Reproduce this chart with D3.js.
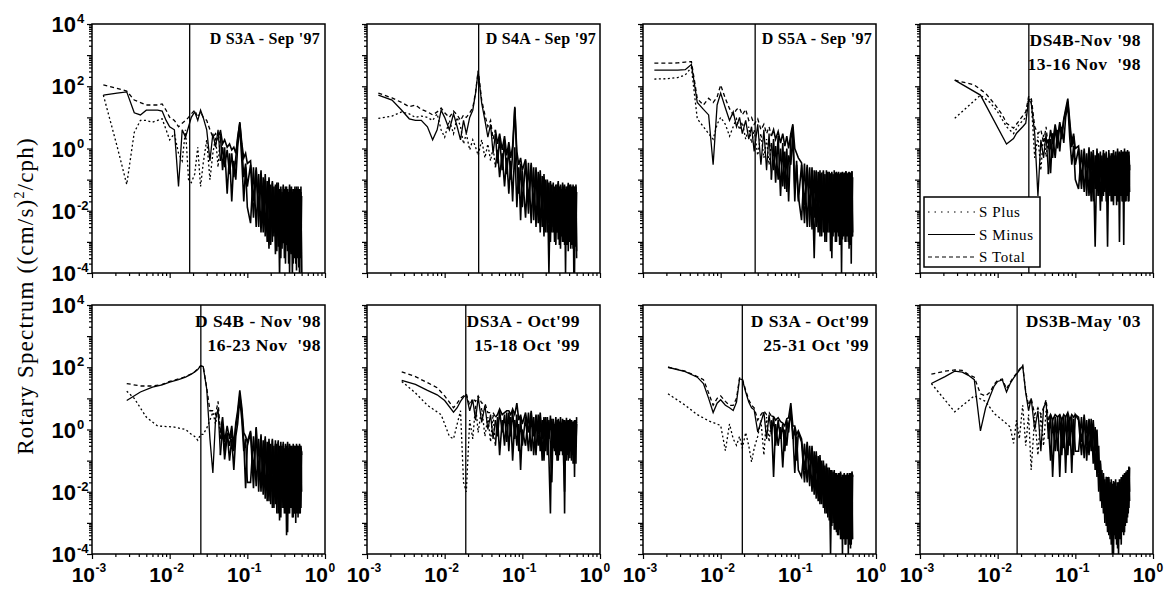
<!DOCTYPE html>
<html>
<head>
<meta charset="utf-8">
<script src="https://cdnjs.cloudflare.com/ajax/libs/d3/7.8.5/d3.min.js"></script>
<style>
  body { margin: 0; background: #fff; }
  .frame { fill: none; stroke: #000; stroke-width: 1.5px; }
  .axis path { display: none; }
  .axis line { stroke: #000; stroke-width: 1.2px; }
  .tick-label { font-family: "Liberation Sans", Arial, sans-serif; font-weight: bold; fill: #000; }
  .title { font-family: "Liberation Serif", "Times New Roman", serif; font-weight: bold; fill: #000; }
  .series { fill: none; stroke: #000; stroke-width: 1.3px; }
  .series.tail { stroke-width: 1.6px; }
  .legend text { font-family: "Liberation Serif", "Times New Roman", serif; font-size: 15px; letter-spacing: 0.6px; }
</style>
</head>
<body>
<div id="chart"></div>
<script>
// frequency grid (cph) shared by all panels
const freq = [
  0.0014,0.0021,0.0028,0.0035,0.0042,0.005,0.006,0.007,0.008,0.009,
  0.010,0.0115,0.013,0.0145,0.016,0.0175,0.019,0.021,0.023,0.025,
  0.027,0.030,0.033,0.036,0.039,0.042,0.045,0.048,0.051,0.055,
  0.059,0.063,0.067,0.071,0.075,0.080,0.085,0.090,0.095,0.100,
  0.11,0.12,0.13,0.14,0.15,0.16,0.17,0.18,0.19,0.20,
  0.21,0.22,0.23,0.24,0.25,0.26,0.27,0.28,0.29,0.30,
  0.31,0.32,0.33,0.34,0.35,0.36,0.37,0.38,0.39,0.40,
  0.41,0.42,0.43,0.44,0.45,0.46,0.47,0.48,0.49,0.50];

const panelTitles = [
  ["D S3A - Sep '97"], ["D S4A - Sep '97"], ["D S5A - Sep '97"],
  ["DS4B-Nov '98", "13-16 Nov  '98"],
  ["D S4B - Nov '98", "16-23 Nov  '98"],
  ["DS3A - Oct'99", "15-18 Oct '99"],
  ["D S3A - Oct'99", "25-31 Oct '99"],
  ["DS3B-May '03"]];

// inertial frequency (cph), vertical line in each panel
const inertialFreq = [0.0181, 0.0274, 0.0278, 0.0252, 0.0252, 0.0187, 0.019, 0.0178];

const seriesNames = ["S Plus", "S Minus", "S Total"];

// DS3A Sep 97
const sMinus1 = [
  52,60,66,14,12,17,17,17,16,8,
  5,4,0.06,4,2.3,5,10,15,8,17,
  10,4,0.4,3,1.1,4,0.4,1.1,0.25,0.9,
  0.15,0.7,0.12,0.5,2.3,6.5,1.1,0.12,0.33,0.06,
  0.3,6e-3,0.2,3e-3,0.15,2e-3,0.1,1e-3,0.12,8e-4,
  0.08,1.5e-3,0.06,5e-4,0.07,8e-5,0.05,6e-4,0.06,3e-4,
  0.05,8e-4,0.04,2e-4,0.06,5e-4,0.05,7e-5,0.04,3e-4,
  0.05,2e-4,0.06,6e-4,0.04,1.5e-4,0.05,3e-4,0.04,6e-5];
const sPlus1 = [
  52,1.2,0.07,3.3,8,8,7,8,9,4,
  1.9,3,0.7,0.4,4,0.1,0.08,0.15,1.1,0.06,
  0.33,1.9,0.1,0.7,2.3,0.25,3,0.2,1.1,0.035,
  0.7,0.02,0.4,0.1,1.1,5,0.4,0.02,0.25,0.013,
  4e-3,0.25,3e-3,0.15,2e-3,0.12,1.5e-3,0.09,6e-4,0.07,
  1e-3,0.06,4e-4,0.08,7e-4,0.05,3e-4,0.04,9e-4,0.05,
  2e-4,0.06,5e-4,0.04,1e-4,0.05,4e-4,0.03,2e-4,0.05,
  6e-4,0.04,1.2e-4,0.05,3e-4,0.04,8e-5,0.05,4e-4,0.03];
const sTotal1 = [
  110,85,70,36,30,25,25,25,27,17,
  10,8,5,6.5,8,10,13,17,10,15,
  10,8,4,2.3,3,1.9,4,1.4,1.9,1.1,
  1.4,0.9,1.1,0.7,1.9,7,1.4,0.5,0.7,0.33,
  0.4,0.02,0.25,0.01,0.2,6e-3,0.15,4e-3,0.1,3e-3,
  0.09,2e-3,0.07,3e-3,0.08,1.5e-3,0.06,1e-3,0.07,2e-3,
  0.06,1e-3,0.05,1.5e-3,0.07,8e-4,0.06,1.2e-3,0.05,6e-4,
  0.06,1e-3,0.05,5e-4,0.06,1e-3,0.05,4e-4,0.06,1e-4];

// DS4A Sep 97
const sMinus2 = [
  52,36,17,9,8,8,5,1.9,4,17,
  10,4,13,5,1.9,8,3,10,17,60,
  300,28,8,2.3,6,0.7,3,0.33,2.3,0.2,
  1.9,0.15,1.1,0.1,0.7,20,0.4,0.035,0.33,0.013,
  0.4,8e-3,0.3,5e-3,0.2,4e-3,0.15,3e-3,0.12,2e-3,
  0.09,1e-4,0.08,2e-3,0.07,1e-3,0.06,2e-3,0.08,8e-4,
  0.06,1.5e-3,0.07,1e-3,0.06,1e-4,0.05,8e-4,0.07,1.2e-3,
  0.06,6e-4,0.05,1e-3,0.06,1e-4,0.05,7e-4,0.06,3e-4];
const sPlus2 = [
  9.3,11,15,13,10,11,10,8,13,4,
  2.3,8,3,10,5,1.4,3,0.9,1.9,1.1,
  0.6,1.9,0.5,1.4,0.4,1.1,0.25,0.9,0.12,0.7,
  0.06,0.5,0.035,0.4,0.02,1.1,0.013,0.25,0.005,0.2,
  6e-3,0.35,4e-3,0.25,3e-3,0.18,2e-3,0.13,1.5e-3,0.1,
  2e-3,0.08,1e-3,0.07,2e-3,0.06,8e-4,0.07,1.2e-3,0.06,
  6e-4,0.05,1e-3,0.06,8e-4,0.05,1.5e-3,0.06,5e-4,0.05,
  1e-3,0.07,8e-4,0.05,6e-4,0.06,1e-4,0.05,1e-3,0.04];
const sTotal2 = [
  60,42,30,22,25,18,15,12,15,20,
  14,10,16,12,8,12,10,14,20,65,
  320,35,12,5,8,2,4,1.4,3,0.9,
  2.5,0.6,1.6,0.5,1.2,22,0.8,0.3,0.5,0.2,
  0.45,0.02,0.35,0.012,0.25,8e-3,0.2,6e-3,0.15,5e-3,
  0.1,4e-3,0.09,3e-3,0.08,4e-3,0.07,2e-3,0.09,3e-3,
  0.07,2e-3,0.08,2.5e-3,0.07,1.5e-3,0.06,2e-3,0.08,1.2e-3,
  0.07,2e-3,0.06,1.5e-3,0.07,1e-3,0.06,1.5e-3,0.07,5e-4];

// DS5A Sep 97
const sMinus3 = [
  330,330,330,340,500,30,18,12,0.3,25,
  60,20,8,15,5,10,3,8,2,5,
  0.8,6,0.3,4,0.2,3,0.1,2,0.08,2.5,
  0.03,1.5,0.05,1,0.02,2,5,0.05,0.3,0.02,
  0.3,4e-3,0.25,3e-3,0.2,3e-4,0.18,2e-3,0.15,1.5e-3,
  0.2,1e-3,0.15,2e-3,0.18,5e-4,0.16,1.5e-3,0.15,1e-3,
  0.18,2e-3,0.15,8e-4,0.17,1e-4,0.15,1.5e-3,0.16,1e-3,
  0.18,2e-3,0.15,1e-3,0.17,8e-4,0.15,2e-4,0.18,1.5e-3];
const sPlus3 = [
  170,175,190,230,400,9,5,3,2,6,
  10,6,2.5,5,9,4,7,2,5,1.5,
  4,0.6,3,0.5,2,0.3,1.5,0.2,1.2,0.1,
  1,0.06,0.8,0.04,0.6,0.3,3,0.02,0.4,0.03,
  5e-3,0.33,3e-3,0.25,2.5e-3,0.2,3e-3,0.18,1.5e-3,0.17,
  2e-3,0.15,1e-3,0.18,2e-3,0.16,3e-4,0.15,2e-3,0.17,
  1e-3,0.16,1.5e-3,0.15,8e-4,0.17,1.2e-3,0.15,2e-3,0.16,
  1e-3,0.15,1.5e-3,0.17,6e-4,0.15,1e-3,0.16,1.5e-3,0.12];
const sTotal3 = [
  550,550,560,600,620,40,25,41,30,45,
  110,40,19,12,18,20,12,18,8,10,
  6,9,4,6,3,5,2.5,4,2,3.5,
  1.5,3,1.2,2.5,1,3,6,1,0.7,0.5,
  0.35,0.015,0.3,0.01,0.25,6e-3,0.2,8e-3,0.2,5e-3,
  0.18,6e-3,0.2,4e-3,0.17,5e-3,0.18,3e-3,0.2,4e-3,
  0.17,5e-3,0.18,3e-3,0.16,4e-3,0.18,3e-3,0.17,5e-3,
  0.19,3e-3,0.16,4e-3,0.18,3e-3,0.17,4e-3,0.19,2e-3];

// DS4B Nov 98, 13-16 Nov
const sMinus4 = [
  null,null,158,null,null,null,52,null,null,null,
  null,null,1.4,null,2.1,3.1,null,5,6.5,36,
  30,3,0.03,1.9,0.5,3,0.15,2,0.5,5,
  1,6,2,8,15,32,5,1.1,2.5,0.3,
  1,0.05,0.8,0.03,0.9,0.02,0.7,7e-4,0.8,0.03,
  0.6,0.02,0.7,0.04,0.6,7e-4,0.7,0.03,0.5,0.02,
  0.7,0.03,0.6,0.015,0.8,0.02,0.6,0.03,0.7,0.02,
  0.6,8e-4,0.7,0.02,0.6,0.03,0.7,0.02,0.6,0.04];
const sPlus4 = [
  null,null,9.3,null,null,null,52,null,30,null,
  15,null,5,null,3,null,6,null,10,40,
  35,0.5,2.4,0.2,3,0.54,2,0.16,3.1,0.5,
  4,0.8,5,1.5,10,25,2,0.3,1.2,0.1,
  0.05,0.9,0.04,0.7,0.03,0.8,0.02,0.6,0.03,0.7,
  0.01,0.6,0.03,0.7,0.02,0.5,0.03,0.6,0.02,0.7,
  0.015,0.6,0.03,0.5,0.02,0.7,1e-3,0.6,0.03,0.5,
  0.02,0.6,0.03,0.7,0.02,0.6,0.03,0.5,0.02,0.3];
const sTotal4 = [
  null,null,158,null,null,110,null,59,null,28,
  null,12,6.5,null,4.5,null,8,null,15,46,
  45,5,3,4,1.5,5,1,4,1.5,6,
  2,7,3,9,18,40,7,1.5,3,1,
  1.2,0.1,1,0.08,1.1,0.06,0.9,0.05,1,0.07,
  0.8,0.05,0.9,0.06,0.8,0.04,0.9,0.05,0.7,0.06,
  0.9,0.05,0.8,0.04,1,0.05,0.8,0.06,0.9,0.04,
  0.8,0.05,1,0.04,0.8,0.06,0.9,0.05,0.8,0.2];

// DS4B Nov 98, 16-23 Nov
const sMinus5 = [
  null,null,8.5,null,16,null,23,null,27,null,
  33,null,40,null,48,null,60,70,85,110,
  105,20,0.5,0.04,2.2,4.5,0.15,1.2,0.11,0.6,
  0.3,0.9,0.2,1.2,3,12,3.6,0.4,0.013,0.3,
  0.8,0.013,1.1,0.01,0.6,8e-3,0.5,5e-3,0.4,4e-3,
  0.45,3e-3,0.35,2e-3,0.4,1.2e-3,0.3,3e-3,0.35,2e-3,
  0.3,4e-4,0.35,2e-3,0.3,3e-3,0.25,1.5e-3,0.3,2e-3,
  0.25,1e-3,0.3,2e-3,0.25,3e-3,0.3,2e-3,0.25,0.01];
const sPlus5 = [
  null,null,17,10,null,2.5,null,1.3,null,null,
  null,1.2,null,null,1,null,0.7,0.6,0.45,0.7,
  0.7,1.1,2,3.6,1.5,4.7,0.5,1.5,0.2,0.8,
  0.1,0.5,0.05,0.6,1.5,10,2,0.2,0.5,0.02,
  0.02,0.6,0.015,0.5,0.01,0.45,6e-3,0.4,5e-3,0.35,
  3e-3,0.3,4e-3,0.35,2e-3,0.3,1.5e-3,0.3,3e-3,0.25,
  2e-3,0.3,5e-4,0.25,2e-3,0.3,3e-3,0.25,1.5e-3,0.3,
  2e-3,0.25,3e-3,0.3,1.5e-3,0.25,2e-3,0.3,3e-3,0.2];
const sTotal5 = [
  null,null,30,null,25,null,25,null,28,null,
  35,null,42,null,50,null,62,72,88,112,
  108,22,4,4,3,8,0.8,2.5,0.4,1.3,
  0.5,1.3,0.3,1.6,4,18,5,0.8,0.6,0.4,
  0.9,0.04,1.2,0.03,0.7,0.02,0.6,0.015,0.5,0.01,
  0.5,8e-3,0.45,6e-3,0.45,5e-3,0.4,8e-3,0.4,6e-3,
  0.35,3e-3,0.4,6e-3,0.35,8e-3,0.3,5e-3,0.35,6e-3,
  0.3,4e-3,0.35,6e-3,0.3,8e-3,0.35,5e-3,0.3,0.15];

// DS3A Oct 99, 15-18 Oct
const sMinus6 = [
  null,null,38,null,28,null,18,null,13,null,
  8.5,null,3.6,5,8,11,13,4,9,2,
  11,1.7,6,1,3,0.5,2,0.6,4,0.8,
  3,0.4,3.5,0.6,4,0.5,3,0.2,2.5,0.3,
  2.5,0.2,3,0.15,2,0.3,2.5,0.1,2,0.2,
  1.8,0.12,0.002,2.2,0.25,1.5,0.15,2,0.1,1.8,
  0.2,1.6,0.15,2,0.002,1.8,0.1,1.5,0.2,1.8,
  0.12,1.6,0.2,1.5,0.08,1.8,0.03,2,0.3,1.5];
const sPlus6 = [
  null,null,35,null,15,null,6,null,null,3,
  null,0.6,0.5,1.5,4,0.02,0.01,2,0.5,6,
  0.8,5,0.6,2.5,0.4,3,0.3,2.5,0.15,2,
  0.3,3.5,0.2,2.5,0.1,2,0.3,1.5,0.05,1,
  0.3,3.5,0.2,2.5,0.15,3,0.2,2,0.1,2.5,
  0.15,2,0.3,0.02,1.8,0.2,1.5,0.1,2,0.15,
  1.6,0.2,1.8,0.1,0.01,1.5,0.15,1.6,0.1,1.8,
  0.2,1.5,0.1,1.7,0.15,1.4,0.2,1.6,0.08,2.5];
const sTotal6 = [
  null,null,71,null,50,null,32,null,22,null,
  12,null,5,7,10,12,14,6,10,8,
  12,7,7,3.5,3.5,3.5,2.5,3,4.5,3,
  3.5,4,4,3,4.5,3,7,2,3,1.5,
  3.5,0.8,4,0.6,3,0.7,3.5,0.5,2.5,0.6,
  2.5,0.5,2.8,0.4,2.2,0.6,2.5,0.4,2.2,0.5,
  2.5,0.4,2.2,0.5,2,0.3,2.4,0.4,2,0.5,
  2.2,0.4,2,0.5,1.8,0.4,2,0.3,1.8,1.6];

// DS3A Oct 99, 25-31 Oct
const sMinus7 = [
  null,100,null,72,null,48,30,10,3.5,7,
  9,6,5,4.1,7.6,42,40,16,7.6,5,
  4.3,0.83,1.7,3.6,0.5,3,0.7,2.5,0.3,2,
  0.5,1.5,0.2,2,0.8,5,0.5,1.2,0.1,0.8,
  0.4,0.02,0.3,0.015,0.25,8e-3,0.15,5e-3,0.12,4e-3,
  0.08,2e-3,0.06,1.5e-3,0.05,1e-4,0.04,1e-3,0.04,6e-4,
  0.035,4e-4,0.03,6e-4,0.04,3e-4,0.03,5e-4,0.035,2e-4,
  0.03,4e-4,0.04,1e-4,0.03,3e-4,0.035,2e-4,0.04,3e-4];
const sPlus7 = [
  null,14,null,6,null,3,null,1.9,null,null,
  1.35,0.21,1.5,0.5,0.31,0.6,0.25,0.8,0.3,0.09,
  0.25,0.6,2,0.15,2.5,0.4,2,0.03,1.5,0.3,
  1.2,0.06,1,0.3,1.5,3,0.8,0.04,0.6,0.05,
  0.03,0.35,0.02,0.3,0.01,0.2,6e-3,0.14,4e-3,0.1,
  3e-3,0.07,2e-3,0.06,1.2e-3,0.05,8e-4,0.045,6e-4,0.04,
  5e-4,0.035,4e-4,0.04,3e-4,0.03,1e-4,0.035,3e-4,0.03,
  2e-4,0.035,3e-4,0.03,2e-4,0.04,1.5e-4,0.03,3e-4,0.035];
const sTotal7 = [
  null,100,null,75,null,50,40,15,6,10,
  12,8,6,6,10,45,43,18,9,6,
  5,2,3,4,3,3.5,2.7,2.6,2,2.4,
  1.8,1.6,1.3,2.2,2.4,7,1.3,1.3,0.7,0.9,
  0.5,0.05,0.4,0.03,0.3,0.02,0.2,0.012,0.15,8e-3,
  0.1,6e-3,0.08,4e-3,0.06,3e-3,0.05,2e-3,0.05,1.5e-3,
  0.04,1.2e-3,0.04,1e-3,0.045,8e-4,0.035,1e-3,0.04,7e-4,
  0.035,8e-4,0.04,6e-4,0.035,8e-4,0.04,5e-4,0.045,0.03];

// DS3B May 03
const sMinus8 = [
  30,50,75,70,55,40,0.9,5,12,25,
  35,39,16,30,45,60,80,110,15,4,
  10,1,4,0.2,5,7.7,0.5,3,0.03,2.5,
  0.2,3,0.15,2.5,0.04,3,0.3,2.5,0.15,3,
  2,0.15,2.5,0.1,1.8,0.2,1.5,0.05,0.5,0.01,
  0.08,3e-3,0.03,1e-3,0.02,5e-4,0.025,3e-4,0.02,1e-4,
  0.018,4e-4,0.02,2e-4,0.015,1e-4,0.02,3e-4,0.025,5e-4,
  0.03,4e-4,0.035,8e-4,0.04,1e-3,0.05,2e-3,0.06,5e-3];
const sPlus8 = [
  30,null,3.7,null,null,12,null,8,null,3.3,
  null,2,null,1.2,0.36,2,0.5,6,0.3,3,
  0.05,2.5,0.15,3,0.3,4,1.5,0.1,2,0.2,
  2.5,0.03,2,0.25,2.5,0.15,2,0.04,2.2,0.2,
  0.2,2.5,0.12,2,0.15,2.2,0.08,1.2,0.03,0.3,
  5e-3,0.05,2e-3,0.025,8e-4,0.03,4e-4,0.02,2e-4,0.018,
  1e-4,0.02,3e-4,0.015,1.5e-4,0.02,4e-4,0.018,2e-4,0.025,
  6e-4,0.03,5e-4,0.035,1e-3,0.04,1.5e-3,0.05,3e-3,0.06];
const sTotal8 = [
  60,75,82,80,58,48,14,12,16,28,
  38,42,20,33,48,63,85,115,16,6,
  10,3,5,3,5,9,2,3,2,3,
  2.5,3,2,3,2.5,3.5,2,3,2.5,3,
  2.5,0.4,3,0.3,2.2,0.4,2,0.2,1,0.04,
  0.1,0.01,0.04,4e-3,0.03,2e-3,0.03,1e-3,0.025,6e-4,
  0.022,1e-3,0.025,5e-4,0.02,8e-4,0.025,1e-3,0.03,1.5e-3,
  0.035,1.2e-3,0.04,2e-3,0.045,3e-3,0.05,4e-3,0.065,0.01];

const yMajor = [1e-4,1e-3,1e-2,1e-1,1,1e1,1e2,1e3,1e4];
const yLabels = [[1e4,"4"],[1e2,"2"],[1,"0"],[1e-2,"-2"],[1e-4,"-4"]];
const xMajor = [1e-3,1e-2,1e-1,1];
const xLabels = [[1e-3,"-3"],[1e-2,"-2"],[1e-1,"-1"],[1,"0"]];

const plusSeries = [sPlus1,sPlus2,sPlus3,sPlus4,sPlus5,sPlus6,sPlus7,sPlus8];
const minusSeries = [sMinus1,sMinus2,sMinus3,sMinus4,sMinus5,sMinus6,sMinus7,sMinus8];
const totalSeries = [sTotal1,sTotal2,sTotal3,sTotal4,sTotal5,sTotal6,sTotal7,sTotal8];

// layout
const W = 1168, H = 590;
const panelLeft = [92, 367, 643, 920];
const rowTop = [24, 305];
const pw = 233, ph = 249;
const titleInset = [5, 4, 4, 12, 4, 20, 7, 12];
const dash = { "S Plus": "2,2.5", "S Minus": null, "S Total": "4,3" };
const tailStart = 0.045;   // above this the spectra are so dense they print as a solid band

const svg = d3.select("#chart").append("svg").attr("width", W).attr("height", H);

const x = d3.scaleLog().domain([1e-3, 1]).range([0, pw]);
const y = d3.scaleLog().domain([1e-4, 1e4]).range([ph, 0]);

const minorOf = majors => majors.slice(0, -1).flatMap(m => [2,3,4,5,6,7,8,9].map(k => k * m));
const yMinor = minorOf(yMajor), xMinor = minorOf(xMajor);

const line = d3.line().x(d => x(d[0])).y(d => y(d[1]));

for (let i = 0; i < 8; i++) {
  const row = Math.floor(i / 4), col = i % 4;
  const g = svg.append("g").attr("transform", `translate(${panelLeft[col]},${rowTop[row]})`);
  g.append("clipPath").attr("id", "clip" + i)
    .append("rect").attr("width", pw).attr("height", ph);

  const plot = g.append("g").attr("clip-path", `url(#clip${i})`);
  const sets = [["S Total", totalSeries[i]], ["S Plus", plusSeries[i]], ["S Minus", minusSeries[i]]];
  sets.forEach(([name, vals]) => {
    const pts = freq.map((f, k) => [f, vals[k]]).filter(d => d[1] != null);
    plot.append("path").datum(pts.filter(d => d[0] <= tailStart))
      .attr("class", "series")
      .attr("stroke-dasharray", dash[name])
      .attr("d", line);
    plot.append("path").datum(pts.filter(d => d[0] >= tailStart))
      .attr("class", "series tail")
      .attr("d", line);
  });

  g.append("line")
    .attr("x1", x(inertialFreq[i])).attr("x2", x(inertialFreq[i]))
    .attr("y1", 0).attr("y2", ph)
    .attr("stroke", "#000").attr("stroke-width", 1.3);

  g.append("rect").attr("class", "frame").attr("width", pw).attr("height", ph);

  g.append("g").attr("class", "axis")
    .call(d3.axisLeft(y).tickValues(yMinor).tickSize(3).tickFormat(""));
  g.append("g").attr("class", "axis")
    .call(d3.axisLeft(y).tickValues(yMajor).tickSize(5).tickFormat(""));
  g.append("g").attr("class", "axis").attr("transform", `translate(0,${ph})`)
    .call(d3.axisBottom(x).tickValues(xMinor).tickSize(3).tickFormat(""));
  g.append("g").attr("class", "axis").attr("transform", `translate(0,${ph})`)
    .call(d3.axisBottom(x).tickValues(xMajor).tickSize(5).tickFormat(""));

  if (col === 0) {
    yLabels.forEach(([v, e]) => {
      g.append("text").attr("class", "tick-label")
        .attr("x", -16).attr("y", y(v) + 8).attr("text-anchor", "end")
        .style("font-size", "22px").text("10");
      g.append("text").attr("class", "tick-label")
        .attr("x", -15).attr("y", y(v) - 1)
        .style("font-size", "13px").text(e);
    });
  }
  if (row === 1) {
    xLabels.forEach(([v, e]) => {
      g.append("text").attr("class", "tick-label")
        .attr("x", x(v) + 3).attr("y", ph + 28).attr("text-anchor", "end")
        .style("font-size", "21px").text("10");
      g.append("text").attr("class", "tick-label")
        .attr("x", x(v) + 3.5).attr("y", ph + 18)
        .style("font-size", "12px").text(e);
    });
  }

  const lines = panelTitles[i];
  const big = lines.length > 1 || i === 7;
  lines.forEach((t, k) => {
    g.append("text").attr("class", "title")
      .attr("x", pw - titleInset[i]).attr("y", (big ? 22 : 20) + k * 24)
      .attr("text-anchor", "end")
      .style("font-size", big ? "17.5px" : "16px")
      .style("letter-spacing", big ? "0.5px" : "0.3px")
      .style("white-space", "pre")
      .text(t);
  });

  if (i === 3) {
    const lg = g.append("g").attr("class", "legend").attr("transform", "translate(4,173)");
    lg.append("rect").attr("width", 116).attr("height", 70)
      .attr("fill", "#fff").attr("stroke", "#000").attr("stroke-width", 1.5);
    seriesNames.forEach((name, k) => {
      const yy = 15 + k * 22.5;
      lg.append("line").attr("x1", 4).attr("x2", 51).attr("y1", yy).attr("y2", yy)
        .attr("stroke", "#000").attr("stroke-width", 1.2)
        .attr("stroke-dasharray", name === "S Plus" ? "1.5,5" : dash[name]);
      lg.append("text").attr("x", 55).attr("y", yy + 5).text(name);
    });
  }
}

const yt = svg.append("text")
  .attr("transform", "translate(33,296) rotate(-90)")
  .attr("text-anchor", "middle")
  .style("font-family", "'Liberation Serif', 'Times New Roman', serif")
  .style("font-size", "23px")
  .style("letter-spacing", "1.2px");
yt.append("tspan").text("Rotary Spectrum ((cm/s)");
yt.append("tspan").attr("dy", -9).style("font-size", "14px").text("2");
yt.append("tspan").attr("dy", 9).text("/cph)");
</script>
</body>
</html>
